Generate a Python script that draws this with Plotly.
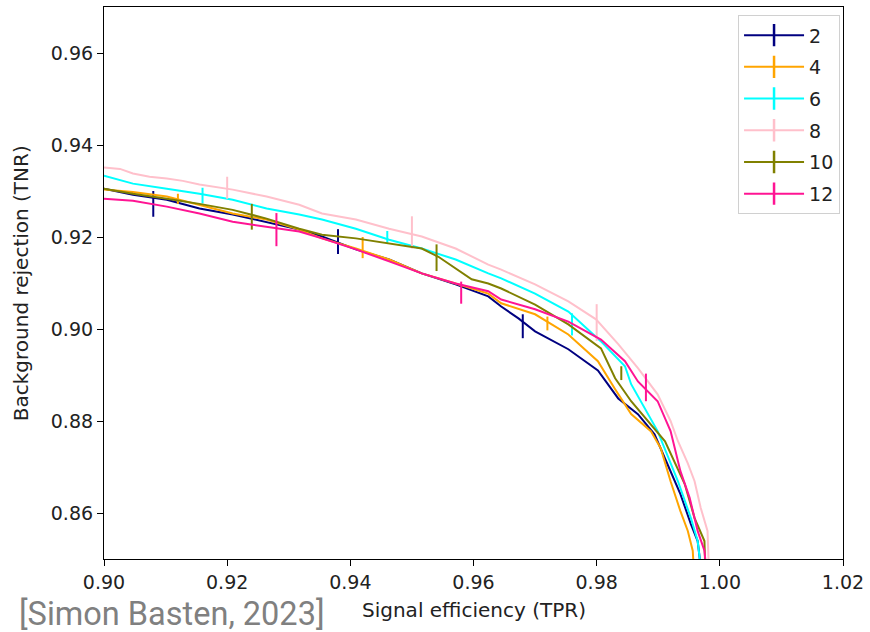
import plotly.graph_objects as go

# ROC curves (signal efficiency vs background rejection) per configuration
labels = ["2", "4", "6", "8", "10", "12"]
colors = ["#000080", "#FFA500", "#00FFFF", "#FFC0CB", "#808000", "#FF1493"]

tpr_2 = [0.9000, 0.9047, 0.9102, 0.9155, 0.9209, 0.9264, 0.9317, 0.9354, 0.9409, 0.9463, 0.9516, 0.9571, 0.9624,
         0.9645, 0.9673, 0.9700, 0.9754, 0.9802, 0.9835, 0.9867, 0.9894, 0.9915, 0.9936, 0.9953, 0.9964, 0.9972]
tnr_2 = [0.9305, 0.9292, 0.9281, 0.9262, 0.9249, 0.9233, 0.9216, 0.9201, 0.9173, 0.9151, 0.9121, 0.9097, 0.9071,
         0.9049, 0.9023, 0.8995, 0.8956, 0.8910, 0.8849, 0.8815, 0.8771, 0.8706, 0.8641, 0.8576, 0.8539, 0.8450]

tpr_4 = [0.9000, 0.9047, 0.9102, 0.9155, 0.9209, 0.9264, 0.9317, 0.9354, 0.9409, 0.9463, 0.9516, 0.9571, 0.9624,
         0.9645, 0.9700, 0.9754, 0.9802, 0.9830, 0.9856, 0.9888, 0.9904, 0.9920, 0.9936, 0.9948, 0.9956, 0.9959]
tnr_4 = [0.9303, 0.9298, 0.9288, 0.9270, 0.9251, 0.9238, 0.9216, 0.9197, 0.9175, 0.9151, 0.9121, 0.9099, 0.9077,
         0.9056, 0.9032, 0.8988, 0.8930, 0.8869, 0.8815, 0.8778, 0.8741, 0.8669, 0.8604, 0.8561, 0.8518, 0.8450]

tpr_6 = [0.9000, 0.9047, 0.9102, 0.9155, 0.9209, 0.9264, 0.9317, 0.9354, 0.9409, 0.9463, 0.9516, 0.9571, 0.9624,
         0.9645, 0.9700, 0.9754, 0.9807, 0.9846, 0.9856, 0.9878, 0.9899, 0.9932, 0.9953, 0.9964, 0.9972]
tnr_6 = [0.9333, 0.9316, 0.9305, 0.9294, 0.9281, 0.9262, 0.9249, 0.9238, 0.9218, 0.9194, 0.9175, 0.9151, 0.9121,
         0.9110, 0.9077, 0.9038, 0.8973, 0.8919, 0.8880, 0.8828, 0.8778, 0.8669, 0.8589, 0.8539, 0.8450]

tpr_8 = [0.9000, 0.9026, 0.9047, 0.9074, 0.9102, 0.9128, 0.9155, 0.9209, 0.9264, 0.9317, 0.9354, 0.9409, 0.9463,
         0.9516, 0.9571, 0.9624, 0.9645, 0.9700, 0.9754, 0.9799, 0.9835, 0.9867, 0.9899, 0.9920, 0.9932, 0.9948,
         0.9959, 0.9969, 0.9980, 0.9983]
tnr_8 = [0.9351, 0.9348, 0.9338, 0.9331, 0.9327, 0.9322, 0.9314, 0.9303, 0.9288, 0.9270, 0.9251, 0.9238, 0.9218,
         0.9201, 0.9175, 0.9140, 0.9129, 0.9097, 0.9060, 0.9021, 0.8967, 0.8915, 0.8858, 0.8800, 0.8756, 0.8708,
         0.8669, 0.8611, 0.8561, 0.8450]

tpr_10 = [0.9000, 0.9047, 0.9102, 0.9155, 0.9209, 0.9264, 0.9317, 0.9354, 0.9409, 0.9463, 0.9516, 0.9543, 0.9571,
          0.9597, 0.9624, 0.9645, 0.9700, 0.9754, 0.9807, 0.9830, 0.9856, 0.9883, 0.9911, 0.9943, 0.9959, 0.9975,
          0.9977]
tnr_10 = [0.9305, 0.9294, 0.9283, 0.9272, 0.9259, 0.9240, 0.9218, 0.9205, 0.9197, 0.9186, 0.9175, 0.9157, 0.9131,
          0.9108, 0.9099, 0.9088, 0.9053, 0.9010, 0.8958, 0.8893, 0.8843, 0.8800, 0.8756, 0.8663, 0.8589, 0.8539,
          0.8450]

tpr_12 = [0.9000, 0.9047, 0.9102, 0.9155, 0.9209, 0.9264, 0.9317, 0.9354, 0.9409, 0.9463, 0.9516, 0.9571, 0.9624,
          0.9645, 0.9700, 0.9754, 0.9807, 0.9846, 0.9867, 0.9899, 0.9920, 0.9936, 0.9951, 0.9964, 0.9975, 0.9980]
tnr_12 = [0.9283, 0.9279, 0.9266, 0.9251, 0.9233, 0.9223, 0.9212, 0.9197, 0.9173, 0.9147, 0.9121, 0.9099, 0.9082,
          0.9064, 0.9043, 0.9016, 0.8977, 0.8930, 0.8886, 0.8843, 0.8778, 0.8691, 0.8633, 0.8561, 0.8518, 0.8450]

# uncertainty bars drawn at every n-th working point of each curve
err_x_2 = [0.908, 0.938, 0.968]
err_y_2 = [0.9272, 0.9190, 0.9006]
err_d_2 = [0.0028, 0.0027, 0.0026]

err_x_4 = [0.912, 0.942, 0.972]
err_y_4 = [0.9283, 0.9177, 0.9012]
err_d_4 = [0.0011, 0.0023, 0.0015]

err_x_6 = [0.916, 0.946, 0.976]
err_y_6 = [0.9290, 0.9199, 0.9010]
err_d_6 = [0.0017, 0.0014, 0.0024]

err_x_8 = [0.920, 0.950, 0.980]
err_y_8 = [0.9307, 0.9210, 0.9014]
err_d_8 = [0.0024, 0.0035, 0.0040]

err_x_10 = [0.924, 0.954, 0.984]
err_y_10 = [0.9244, 0.9155, 0.8904]
err_d_10 = [0.0028, 0.0029, 0.0015]

err_x_12 = [0.928, 0.958, 0.988]
err_y_12 = [0.9216, 0.9079, 0.8873]
err_d_12 = [0.0036, 0.0024, 0.0030]

curves = [(tpr_2, tnr_2), (tpr_4, tnr_4), (tpr_6, tnr_6), (tpr_8, tnr_8), (tpr_10, tnr_10), (tpr_12, tnr_12)]
errors = [(err_x_2, err_y_2, err_d_2), (err_x_4, err_y_4, err_d_4), (err_x_6, err_y_6, err_d_6),
          (err_x_8, err_y_8, err_d_8), (err_x_10, err_y_10, err_d_10), (err_x_12, err_y_12, err_d_12)]

x_ticks = [0.90, 0.92, 0.94, 0.96, 0.98, 1.00, 1.02]
y_ticks = [0.86, 0.88, 0.90, 0.92, 0.94, 0.96]

FONT = "DejaVu Sans"
FS = 19
TITLE_FS = 20

fig = go.Figure()

for lab, col, (xs, ys), (ex, ey, ed) in zip(labels, colors, curves, errors):
    fig.add_trace(go.Scatter(
        x=xs, y=ys, mode="lines", line=dict(color=col, width=2),
        showlegend=False, legendgroup=lab, hoverinfo="skip"))
    fig.add_trace(go.Scatter(
        x=ex, y=ey, mode="markers", marker=dict(size=1, color=col, opacity=0),
        error_y=dict(type="data", array=ed, visible=True, color=col, thickness=2, width=0),
        showlegend=False, legendgroup=lab, hoverinfo="skip"))

# legend entries: line with a vertical bar, like an errorbar handle
for lab, col in zip(labels, colors):
    fig.add_trace(go.Scatter(
        x=[None], y=[None], mode="lines+markers", name=lab, legendgroup=lab,
        line=dict(color=col, width=2),
        marker=dict(symbol="line-ns", size=16, line=dict(color=col, width=2.5))))

fig.update_layout(
    width=870, height=632,
    margin=dict(l=104, r=24, t=6, b=73),
    paper_bgcolor="white", plot_bgcolor="white",
    font=dict(family=FONT, size=FS, color="#222"),
    showlegend=True,
    legend=dict(
        x=0.996, y=0.985, xanchor="right", yanchor="top",
        bgcolor="rgba(255,255,255,0.8)", bordercolor="#d0d0d0", borderwidth=1,
        font=dict(family=FONT, size=FS, color="#222"),
        traceorder="grouped", tracegroupgap=4, itemwidth=60),
    xaxis=dict(
        range=[0.90, 1.02], tickvals=x_ticks, ticktext=[f"{v:.2f}" for v in x_ticks],
        showline=True, linecolor="black", linewidth=1.2, mirror=True,
        ticks="outside", ticklen=6, tickwidth=1.2, tickcolor="black",
        showgrid=False, zeroline=False, tickfont=dict(size=FS)),
    yaxis=dict(
        range=[0.85, 0.97], tickvals=y_ticks, ticktext=[f"{v:.2f}" for v in y_ticks],
        showline=True, linecolor="black", linewidth=1.2, mirror=True,
        ticks="outside", ticklen=6, tickwidth=1.2, tickcolor="black",
        showgrid=False, zeroline=False, tickfont=dict(size=FS)),
    annotations=[
        dict(text="Signal efficiency (TPR)", xref="paper", yref="paper", x=0.501, y=-0.092,
             xanchor="center", yanchor="middle", showarrow=False, font=dict(size=TITLE_FS, color="#222")),
        dict(text="Background rejection (TNR)", xref="paper", yref="paper", x=-0.112, y=0.5,
             xanchor="center", yanchor="middle", textangle=-90, showarrow=False,
             font=dict(size=TITLE_FS, color="#222")),
        dict(text="[Simon Basten, 2023]", xref="paper", yref="paper", x=-0.118, y=-0.100,
             xanchor="left", yanchor="middle", showarrow=False,
             font=dict(family="Roboto", size=32.5, color="#808080")),
    ],
)

fig.write_html("out.html")
